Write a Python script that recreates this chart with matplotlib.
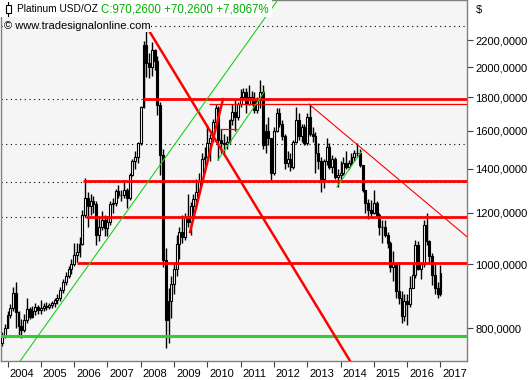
import matplotlib
matplotlib.use("Agg")
import matplotlib.pyplot as plt
import matplotlib.dates as mdates
import matplotlib.ticker as mticker
from matplotlib.patches import Rectangle
from matplotlib.transforms import ScaledTranslation
import numpy as np
import pandas as pd

plt.rcParams['font.family'] = ['Liberation Sans', 'DejaVu Sans']

# monthly candles, Nov 2003 .. Jan 2017
months = pd.date_range("2003-11-01", periods=159, freq="MS")
first_open = 760

closes = ([778, 800] +
          [838, 858, 905, 845, 805, 795, 822, 855, 832, 848, 860, 852] +
          [858, 865, 862, 868, 872, 882, 888, 915, 940, 962, 985, 1000] +
          [1035, 1045, 1075, 1190, 1265, 1230, 1250, 1235, 1110, 1140, 1170, 1135] +
          [1160, 1235, 1240, 1295, 1275, 1275, 1300, 1265, 1370, 1440, 1460, 1530] +
          [1740, 2160, 2030, 2000, 2125, 2045, 1750, 1470, 1016, 823, 880, 935] +
          [985, 1075, 1120, 1100, 1180, 1160, 1230, 1260, 1290, 1340, 1450, 1460] +
          [1530, 1560, 1650, 1735, 1550, 1530, 1525, 1540, 1660, 1710, 1680, 1760] +
          [1800, 1830, 1760, 1800, 1790, 1720, 1780, 1830, 1520, 1600, 1560, 1380] +
          [1600, 1700, 1640, 1570, 1430, 1450, 1410, 1540, 1660, 1570, 1620, 1530] +
          [1680, 1580, 1570, 1480, 1440, 1350, 1440, 1510, 1410, 1450, 1360, 1370] +
          [1380, 1430, 1410, 1430, 1460, 1480, 1480, 1420, 1300, 1240, 1210, 1200] +
          [1240, 1190, 1140, 1140, 1110, 1080, 990, 1000, 910, 890, 835, 880] +
          [870, 920, 965, 1070, 985, 1000, 1150, 1085, 1030, 965, 920, 900] +
          [970.26])
highs = ([790, 810] +
         [848, 870, 925, 940, 850, 825, 840, 889, 862, 865, 872, 866] +
         [883, 872, 878, 875, 880, 890, 900, 925, 950, 975, 995, 1020] +
         [1078, 1080, 1100, 1210, 1355, 1290, 1280, 1270, 1250, 1180, 1205, 1190] +
         [1185, 1250, 1265, 1305, 1320, 1300, 1345, 1310, 1380, 1450, 1490, 1540] +
         [1745, 2190, 2300, 2100, 2185, 2135, 2080, 1770, 1500, 1060, 920, 960] +
         [1010, 1110, 1140, 1190, 1200, 1280, 1245, 1280, 1350, 1380, 1480, 1510] +
         [1630, 1580, 1665, 1757, 1745, 1610, 1580, 1570, 1665, 1760, 1790, 1770] +
         [1850, 1860, 1860, 1880, 1840, 1830, 1800, 1913, 1880, 1640, 1680, 1560] +
         [1620, 1730, 1730, 1660, 1580, 1490, 1480, 1550, 1738, 1700, 1640, 1640] +
         [1700, 1757, 1620, 1590, 1530, 1460, 1450, 1560, 1530, 1470, 1460, 1400] +
         [1440, 1460, 1490, 1445, 1480, 1495, 1533, 1500, 1420, 1300, 1260, 1254] +
         [1300, 1250, 1200, 1170, 1170, 1120, 1085, 1050, 1010, 1010, 910, 900] +
         [900, 960, 1000, 1090, 1085, 1010, 1170, 1198, 1090, 1040, 1000, 940] +
         [998])
lows = ([752, 772] +
        [800, 828, 850, 800, 778, 773, 790, 815, 826, 828, 838, 840] +
        [840, 850, 852, 855, 858, 862, 870, 880, 905, 930, 955, 968] +
        [995, 1010, 1025, 1070, 1180, 1140, 1190, 1200, 1070, 1085, 1130, 1105] +
        [1105, 1150, 1200, 1230, 1265, 1250, 1265, 1220, 1255, 1365, 1400, 1430] +
        [1520, 1730, 1930, 1925, 1940, 1980, 1690, 1370, 990, 746, 760, 830] +
        [900, 960, 1020, 1080, 1090, 1140, 1110, 1200, 1220, 1280, 1330, 1400] +
        [1450, 1440, 1540, 1640, 1443, 1480, 1480, 1500, 1530, 1630, 1600, 1660] +
        [1740, 1790, 1700, 1750, 1750, 1700, 1700, 1730, 1500, 1480, 1520, 1346] +
        [1370, 1590, 1620, 1550, 1400, 1410, 1390, 1400, 1530, 1550, 1540, 1520] +
        [1520, 1570, 1540, 1380, 1400, 1290, 1310, 1420, 1400, 1380, 1350, 1313] +
        [1340, 1370, 1400, 1400, 1420, 1440, 1460, 1410, 1290, 1198, 1175, 1180] +
        [1195, 1180, 1110, 1078, 1100, 1060, 975, 945, 890, 870, 815, 820] +
        [809, 860, 920, 955, 980, 950, 990, 1070, 1010, 930, 900, 890] +
        [895])

# drawn levels and trend lines
red_levels = [1788, 1341, 1182, 1005]
red_level_starts = ["2008-01-26", "2006-04-08", "2006-05-10", "2006-01-30"]
thin_red_level = 1757
thin_red_start = "2010-01-20"
short_red_level = 1610
short_red_span = ["2010-05-18", "2010-11-20"]
green_level = 778
dotted_levels = [2311, 1788, 1527, 1338, 1181]

red_thick_lines = [(("2008-02-17", 2327), ("2014-08-19", 667)),
                   (("2009-06-25", 1121), ("2010-06-22", 1788))]
red_thin_lines = [(("2013-01-19", 1757), ("2018-03-10", 1061))]
green_thin_lines = [(("2004-03-08", 690), ("2012-04-30", 2622)),
                    (("2010-04-26", 1443), ("2011-09-24", 1839)),
                    (("2013-11-22", 1313), ("2014-08-23", 1490))]

yticks = [800, 1000, 1200, 1400, 1600, 1800, 2000, 2200]

W, H = 531, 380
fig = plt.figure(figsize=(W / 100, H / 100), dpi=100)
L, R, B = 0.5, 467, 361
ax = fig.add_axes([L / W, 1 - B / H, (R - L) / W, B / H])
bg = '#f5f5f5'
ax.set_facecolor(bg)

# pixel <-> data mapping of the reference
px_per_year = 33.3
x2004 = 7.5
d0 = mdates.date2num(pd.Timestamp("2004-01-01"))
days_px = 365.25 / px_per_year
xmin = d0 + (L - x2004) * days_px
xmax = d0 + (R - x2004) * days_px
ypix_1000, ypix_k = 264.5, 284.7
ymin = 1000 * np.exp((ypix_1000 - B) / ypix_k)
ymax = 1000 * np.exp(ypix_1000 / ypix_k)

x = mdates.date2num(months)
c = np.array(closes, float)
o = np.r_[first_open, c[:-1]]
h = np.array(highs, float)
l = np.array(lows, float)
up = c >= o

ax.vlines(x, l, h, color='black', lw=1.0, zorder=2)
ax.bar(x, np.maximum(np.abs(c - o), 1.5), bottom=np.minimum(o, c), width=21,
       color=np.where(up, 'white', 'black'), edgecolor='black', linewidth=0.8, zorder=3)

for lev in dotted_levels:
    ax.hlines(lev, xmin, xmax, color='black', lw=0.8, linestyles=(0, (1, 3.2)), zorder=1)

for lev, st in zip(red_levels, red_level_starts):
    ax.hlines(lev, mdates.date2num(pd.Timestamp(st)), xmax, color='#ff0000', lw=2.0, zorder=4)
ax.hlines(thin_red_level, mdates.date2num(pd.Timestamp(thin_red_start)), xmax,
          color='#ff0000', lw=0.9, zorder=4)
ax.hlines(short_red_level, *mdates.date2num(pd.to_datetime(short_red_span)),
          color='#ff0000', lw=0.9, zorder=4)
ax.axhline(green_level, color='#33cc33', lw=2.2, zorder=4)


def seg(pair):
    (da, pa), (db, pb) = pair
    return mdates.date2num(pd.to_datetime([da, db])), [pa, pb]


for pair in red_thick_lines:
    xs, ys = seg(pair)
    ax.plot(xs, ys, color='#ff0000', lw=1.8, zorder=4)
for pair in red_thin_lines:
    xs, ys = seg(pair)
    ax.plot(xs, ys, color='#ff0000', lw=0.8, zorder=4)
for pair in green_thin_lines:
    xs, ys = seg(pair)
    ax.plot(xs, ys, color='#22cc22', lw=0.8, zorder=4)

ax.set_yscale('log')
ax.set_xlim(xmin, xmax)
ax.set_ylim(ymin, ymax)
ax.yaxis.tick_right()
ax.yaxis.set_major_locator(mticker.FixedLocator(yticks))
ax.yaxis.set_minor_locator(mticker.NullLocator())
ax.yaxis.set_major_formatter(mticker.FuncFormatter(lambda v, _: f"{v:.4f}".replace('.', ',')))
ax.xaxis.set_major_locator(mdates.YearLocator())
ax.xaxis.set_major_formatter(mdates.DateFormatter('%Y'))
ax.xaxis.set_minor_locator(mticker.NullLocator())
ax.tick_params(axis='both', direction='out', length=4, width=0.8, color='#404040',
               labelsize=8, labelcolor='black')
ax.tick_params(axis='y', pad=2)
ax.tick_params(axis='x', pad=1.5)
for lab in ax.get_xticklabels():
    lab.set_horizontalalignment('left')
    lab.set_transform(lab.get_transform() + ScaledTranslation(2 / 100, 0, fig.dpi_scale_trans))
for sp in ax.spines.values():
    sp.set_color('#808080')
    sp.set_linewidth(1)


def fx(px):
    return px / W


def fy(py):
    return 1 - py / H


# header
fig.add_artist(Rectangle((0, fy(17)), fx(272), 17 / H, transform=fig.transFigure,
                         facecolor='white', edgecolor='none', zorder=5))
fig.add_artist(Rectangle((fx(5.5), fy(13)), fx(5), 8 / H, transform=fig.transFigure,
                         facecolor='white', edgecolor='black', lw=0.8, zorder=6))
fig.add_artist(plt.Line2D([fx(8), fx(8)], [fy(2), fy(16)], transform=fig.transFigure,
                          color='black', lw=0.8, zorder=5.5))
fig.text(fx(17), fy(9), "Platinum USD/OZ", fontsize=7.3, va='center', ha='left', zorder=6)
fig.text(fx(101), fy(9), "C:970,2600 +70,2600 +7,8067%", fontsize=8.3, va='center',
         ha='left', color='#00b000', zorder=6)
fig.text(fx(4), fy(26), "\u00a9 www.tradesignalonline.com", fontsize=8, va='center', ha='left',
         zorder=6, bbox=dict(facecolor=bg, edgecolor='none', pad=0.6))
fig.text(fx(476), fy(10), "$", fontsize=8, va='center', ha='left')

fig.savefig("out.png", dpi=100)
